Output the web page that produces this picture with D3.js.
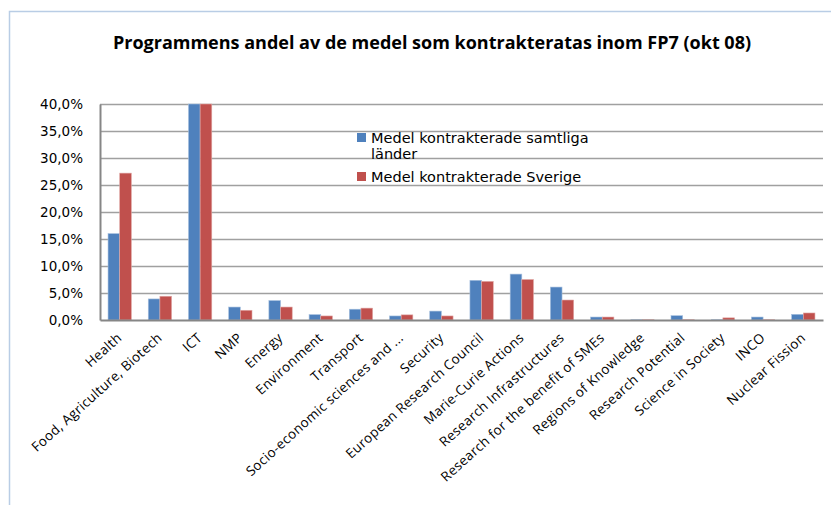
<!DOCTYPE html>
<html>
<head>
<meta charset="utf-8">
<script src="https://cdn.jsdelivr.net/npm/d3@7"></script>
<style>
  body { margin: 0; background: #fff; }
</style>
</head>
<body>
<div id="chart"></div>
<script>
// Programme names along the x axis
const categories = ["Health", "Food, Agriculture, Biotech", "ICT", "NMP", "Energy", "Environment",
    "Transport", "Socio-economic sciences and ...", "Security", "European Research Council",
    "Marie-Curie Actions", "Research Infrastructures", "Research for the benefit of SMEs",
    "Regions of Knowledge", "Research Potential", "Science in Society", "INCO", "Nuclear Fission"];

// Share of contracted funds, percent
const allCountries = [16.0, 3.9, 40.5, 2.4, 3.6, 1.0, 2.0, 0.75, 1.65, 7.35, 8.5, 6.1, 0.55, 0.05, 0.8, 0.05, 0.55, 1.05];
const sweden = [27.2, 4.4, 40.3, 1.8, 2.4, 0.75, 2.2, 0.95, 0.75, 7.15, 7.5, 3.7, 0.55, 0.05, 0.05, 0.4, 0.05, 1.3];

const seriesNames = ["Medel kontrakterade samtliga länder", "Medel kontrakterade Sverige"];
const colors = ["#4f81bd", "#c0504d"];
const yTicks = [0, 5, 10, 15, 20, 25, 30, 35, 40];

const W = 831, H = 505;
const margin = {top: 104, right: 8, bottom: 185, left: 100};
const width = W - margin.left - margin.right,
    height = H - margin.top - margin.bottom;

const svg = d3.select("#chart").append("svg")
    .attr("width", W)
    .attr("height", H);

// Chart frame
svg.append("path")
    .attr("d", "M9.5,505 L9.5,11.5 L831,11.5")
    .attr("fill", "none")
    .attr("stroke", "#b9cde5")
    .attr("stroke-width", 1.5);

// Title
svg.append("text")
    .attr("x", 432)
    .attr("y", 49)
    .attr("text-anchor", "middle")
    .style("font-family", "'Open Sans', sans-serif")
    .style("font-weight", "bold")
    .style("font-size", "18px")
    .text("Programmens andel av de medel som kontrakteratas inom FP7 (okt 08)");

const g = svg.append("g")
    .attr("transform", "translate(" + margin.left + "," + margin.top + ")");

const x = d3.scaleBand()
    .domain(categories)
    .range([0, width])
    .paddingInner(0.42)
    .paddingOuter(0.2);

const x1 = d3.scaleBand()
    .domain([0, 1])
    .range([0, x.bandwidth()]);

const y = d3.scaleLinear()
    .domain([0, 40])
    .range([height, 0]);

// Gridlines
g.selectAll(".grid")
    .data(yTicks.slice(1))
    .enter().append("line")
    .attr("x1", 0)
    .attr("x2", width)
    .attr("y1", d => y(d) + 0.5)
    .attr("y2", d => y(d) + 0.5)
    .attr("stroke", "#a0a0a0")
    .attr("stroke-width", 1.5);

// Bars
const data = categories.map((c, i) => ({cat: c, vals: [allCountries[i], sweden[i]]}));
const groups = g.selectAll(".group")
    .data(data)
    .enter().append("g")
    .attr("transform", d => "translate(" + x(d.cat) + ",0)");

groups.selectAll("rect")
    .data(d => d.vals.map((v, k) => ({k: k, v: Math.min(v, 40)})))
    .enter().append("rect")
    .attr("x", d => x1(d.k))
    .attr("y", d => y(d.v))
    .attr("width", x1.bandwidth())
    .attr("height", d => height - y(d.v))
    .attr("fill", d => colors[d.k])
    .attr("stroke", d => d.k === 0 ? "#a7c0de" : "#e0a8a6")
    .attr("stroke-width", 0.6);

// Y axis
const yAxis = g.append("g")
    .call(d3.axisLeft(y).tickValues(yTicks).tickSize(0).tickPadding(17)
        .tickFormat(d => d3.format(".1f")(d).replace(".", ",") + "%"));
yAxis.select(".domain").attr("stroke", "#868686").attr("stroke-width", 2);
yAxis.selectAll("text")
    .style("font-family", "'DejaVu Sans', sans-serif")
    .style("font-size", "13.5px")
    .attr("fill", "#000");

// X axis
const xAxis = g.append("g")
    .attr("transform", "translate(0," + height + ")")
    .call(d3.axisBottom(x).tickSize(0).tickSizeOuter(0));
xAxis.select(".domain").attr("stroke", "#868686").attr("stroke-width", 2);
xAxis.selectAll("text")
    .style("font-family", "'Open Sans', sans-serif")
    .style("font-size", "13.5px")
    .style("letter-spacing", "0.3px")
    .attr("fill", "#000")
    .attr("text-anchor", "end")
    .attr("dy", 0)
    .attr("y", 0)
    .attr("transform", "translate(3,19) rotate(-42)");

// Legend
const legend = g.selectAll(".legend")
    .data(seriesNames)
    .enter().append("g")
    .attr("class", "legend")
    .attr("transform", (d, i) => "translate(257," + (i === 0 ? 29 : 68) + ")");

legend.append("rect")
    .attr("width", 9)
    .attr("height", 9)
    .attr("fill", (d, i) => colors[i]);

const legendText = legend.append("text")
    .attr("x", 14)
    .attr("y", 10)
    .style("font-family", "'DejaVu Sans', sans-serif")
    .style("font-size", "14.5px")
    .attr("fill", "#000");

legendText.each(function(d, i) {
    const t = d3.select(this);
    if (i === 0) {
        t.append("tspan").attr("x", 14).text("Medel kontrakterade samtliga");
        t.append("tspan").attr("x", 14).attr("dy", 16).text("länder");
    } else {
        t.text(d);
    }
});
</script>
</body>
</html>
